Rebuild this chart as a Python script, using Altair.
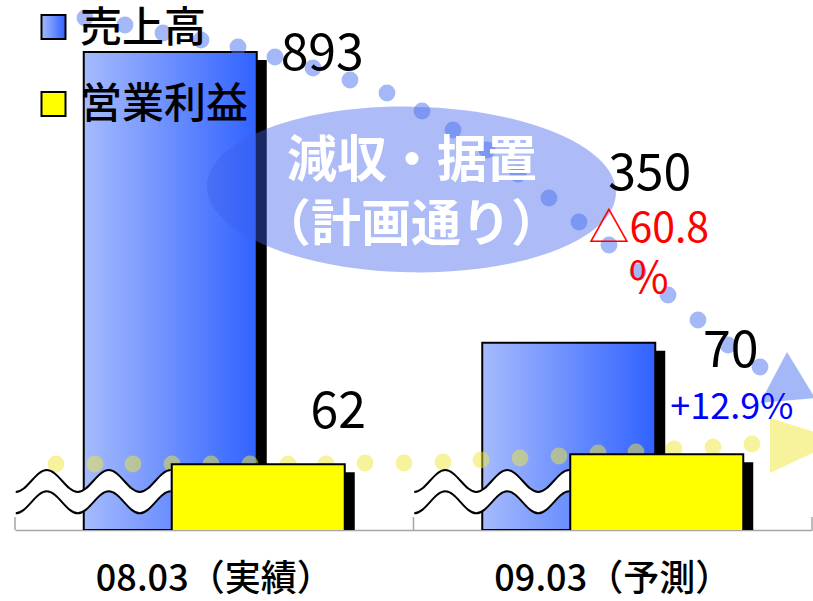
import altair as alt
import pandas as pd

# ---------------- data ----------------
periods = ["08.03（実績）", "09.03（予測）"]
series = ["売上高", "営業利益"]
sales = [893, 350]
profit = [62, 70]
sales_change = ["", "△60.8%"]
profit_change = ["", "+12.9%"]
callout = ["減収・据置", "（計画通り）"]

# decorative dotted arrows (pixel centres of the dots)
blue_dot_x = [85, 125, 163, 201, 238, 275, 313, 350, 387, 422, 453, 487, 518, 549, 579, 609, 638, 668, 698, 728, 760]
blue_dot_y = [18, 25, 33, 40, 47, 57, 68, 80, 93, 111, 130, 150, 174, 198, 222, 245, 272, 295, 320, 345, 367]
yel_dot_x = [56, 95, 133, 172, 211, 250, 288, 326, 365, 404, 443, 481, 520, 559, 598, 636, 674, 713, 752]
yel_dot_y = [464, 464, 464, 464, 464, 464, 464, 464, 463, 463, 462, 460, 458, 456, 453, 452, 449, 447, 444]

# ---------------- styling ----------------
JP = "Noto Sans CJK JP"
NUM = "Noto Sans CJK JP"
BLUE_GRAD = alt.Gradient(
    gradient="linear",
    stops=[alt.GradientStop(color="#a6bbfd", offset=0), alt.GradientStop(color="#3062ff", offset=1)],
    x1=0, x2=1, y1=0, y2=0,
)
YELLOW = "#ffff00"

df = pd.DataFrame({
    "period": periods * 2,
    "series": [series[0]] * 2 + [series[1]] * 2,
    "value": sales + profit,
})
chg = pd.DataFrame({"period": periods, "sales_change": sales_change, "profit_change": profit_change})

xband = alt.Scale(domain=periods, range=[15, 812], paddingInner=0, paddingOuter=0)
ys = alt.Scale(domain=[0, 990], range=[530, 0], zero=False, nice=False)
yp = alt.Scale(domain=[9.4, 433.4], range=[530, 0], zero=False, nice=False)
pxs = alt.Scale(domain=[0, 813], range=[0, 813], zero=False, nice=False)
pys = alt.Scale(domain=[0, 530], range=[0, 530], zero=False, nice=False)

X = alt.X("period:N", scale=xband, axis=None)
Ys = alt.Y("value:Q", scale=ys, axis=None)
Yp = alt.Y("value:Q", scale=yp, axis=None)
PX = lambda f: alt.X(f"{f}:Q", scale=pxs, axis=None)
PY = lambda f: alt.Y(f"{f}:Q", scale=pys, axis=None)

base = alt.Chart(df)
sales_d = base.transform_filter(alt.datum.series == series[0])
profit_d = base.transform_filter(alt.datum.series == series[1])

xaxis = alt.Axis(title=None, labelFont=JP, labelFontSize=36, labelFontWeight=500, labelColor="black",
                 labelAngle=0, labelPadding=32, labelLimit=600, ticks=False, grid=False,
                 domainColor="#a6a6a6", domainWidth=1.5)

layers = []
# sales bars (shadow + bar)
layers.append(sales_d.mark_bar(size=173, xOffset=-34, yOffset=8, color="black", clip=True)
              .encode(x=X, y=Ys))
layers.append(sales_d.mark_bar(size=173, xOffset=-44, fill=BLUE_GRAD, stroke="black", strokeWidth=2, clip=True)
              .encode(x=alt.X("period:N", scale=xband, axis=xaxis), y=Ys))

# axis ticks pointing up at band boundaries
layers.append(alt.Chart(chg).mark_rule(color="#a6a6a6", strokeWidth=1.5)
              .encode(x=alt.X("period:N", scale=xband, axis=None, bandPosition=0),
                      y=alt.value(517), y2=alt.value(530)))
layers.append(alt.Chart(chg).transform_filter(alt.datum.period == periods[-1])
              .mark_rule(color="#a6a6a6", strokeWidth=1.5)
              .encode(x=alt.X("period:N", scale=xband, axis=None, bandPosition=1),
                      y=alt.value(517), y2=alt.value(530)))

# yellow dotted arrow
ydots = pd.DataFrame({"x": yel_dot_x, "y": yel_dot_y})
layers.append(alt.Chart(ydots).mark_circle(size=283, color="#efe73a", opacity=0.5)
              .encode(x=PX("x"), y=PY("y")))
ytri = pd.DataFrame({"x": [800], "y": [445]})
layers.append(alt.Chart(ytri).mark_point(shape="M -0.857 -0.771 L 1.143 -0.143 L -0.857 0.8 Z", size=4900,
                                         filled=True, fill="#efe73a", opacity=0.5, strokeWidth=0)
              .encode(x=PX("x"), y=PY("y")))

# broken-axis wave symbols
top = ("M -1 0 C -0.856 0 -0.744 -0.284 -0.6 -0.284 C -0.456 -0.284 -0.344 0 -0.2 0 "
       "C -0.056 0 0.056 -0.284 0.2 -0.284 C 0.344 -0.284 0.456 0 0.6 0 C 0.744 0 0.856 -0.284 1 -0.284")
bottom = ("M -1 0.275 C -0.856 0.275 -0.744 -0.009 -0.6 -0.009 C -0.456 -0.009 -0.344 0.275 -0.2 0.275 "
          "C -0.056 0.275 0.056 -0.009 0.2 -0.009 C 0.344 -0.009 0.456 0.275 0.6 0.275 C 0.744 0.275 0.856 -0.009 1 -0.009")
band_fill = (top + " L 1 -0.009 C 0.856 -0.009 0.744 0.275 0.6 0.275 C 0.456 0.275 0.344 -0.009 0.2 -0.009 "
             "C 0.056 -0.009 -0.056 0.275 -0.2 0.275 C -0.344 0.275 -0.456 -0.009 -0.6 -0.009 "
             "C -0.744 -0.009 -0.856 0.275 -1 0.275 Z")
wave = alt.Chart(chg)
layers.append(wave.mark_point(shape=band_fill, size=24025, filled=True, fill="white", opacity=1,
                              strokeWidth=0, xOffset=-121)
              .encode(x=X, y=alt.value(492)))
layers.append(wave.mark_point(shape=top + " " + bottom, size=24025, filled=False, stroke="black",
                              strokeWidth=2, opacity=1, xOffset=-121)
              .encode(x=X, y=alt.value(492)))

# profit bars (shadow + bar)
layers.append(profit_d.mark_bar(size=173, xOffset=54, yOffset=8, color="black", clip=True)
              .encode(x=X, y=Yp))
layers.append(profit_d.mark_bar(size=173, xOffset=44, fill=YELLOW, stroke="black", strokeWidth=2, clip=True)
              .encode(x=X, y=Yp))

# callout ellipse
ell = ("M -1 0 C -1 -0.2237 -0.5523 -0.405 0 -0.405 C 0.5523 -0.405 1 -0.2237 1 0 "
       "C 1 0.2237 0.5523 0.405 0 0.405 C -0.5523 0.405 -1 0.2237 -1 0 Z")
layers.append(alt.Chart(pd.DataFrame({"x": [411.5], "y": [189.5]}))
              .mark_point(shape=ell, size=167281, filled=True, fill="#3c5feb", opacity=0.42,
                          strokeWidth=0, angle=1)
              .encode(x=PX("x"), y=PY("y")))

# blue dotted arrow
bdots = pd.DataFrame({"x": blue_dot_x, "y": blue_dot_y})
layers.append(alt.Chart(bdots).mark_circle(size=283, color="#4a72f0", opacity=0.5)
              .encode(x=PX("x"), y=PY("y")))
layers.append(alt.Chart(pd.DataFrame({"x": [787], "y": [380]}))
              .mark_point(shape="M 0 -1.04 L 1.04 0.67 L -1 0.85 Z", size=2916, filled=True,
                          fill="#4a72f0", opacity=0.5, strokeWidth=0)
              .encode(x=PX("x"), y=PY("y")))

# callout text
ctext = pd.DataFrame({"t": callout, "x": [412, 411], "y": [162, 226]})
layers.append(alt.Chart(ctext).mark_text(font=JP, fontSize=50, fontWeight="bold", color="white",
                                         baseline="middle", align="center")
              .encode(x=PX("x"), y=PY("y"), text="t:N"))

# value labels
def vlabel(d, Y, period, dx, dy):
    return (d.transform_filter(alt.datum.period == period)
            .mark_text(font=NUM, fontSize=50, color="black", baseline="middle", align="center", dx=dx, dy=dy)
            .encode(x=X, y=Y, text="value:Q"))

layers.append(vlabel(sales_d, Ys, periods[0], 108, 3))
layers.append(vlabel(sales_d, Ys, periods[1], 37, -168))
layers.append(vlabel(profit_d, Yp, periods[0], 124, -51))
layers.append(vlabel(profit_d, Yp, periods[1], 118, -102))

# change labels
sc = (alt.Chart(pd.DataFrame({"period": periods, "chg": sales_change, "v": sales}))
      .transform_filter(alt.datum.chg != "")
      .transform_calculate(l1="replace(datum.chg, '%', '')", l2="'%'"))
layers.append(sc.mark_text(font=NUM, fontSize=41, color="#ff0000", baseline="middle", align="center", dx=36, dy=-113)
              .encode(x=X, y=alt.Y("v:Q", scale=ys, axis=None), text="l1:N"))
layers.append(sc.mark_text(font=NUM, fontSize=43, color="#ff0000", baseline="middle", align="center", dx=36, dy=-63)
              .encode(x=X, y=alt.Y("v:Q", scale=ys, axis=None), text="l2:N"))
pc = (alt.Chart(pd.DataFrame({"period": periods, "chg": profit_change, "v": profit}))
      .transform_filter(alt.datum.chg != ""))
layers.append(pc.mark_text(font=NUM, fontSize=36, color="#0000ff", baseline="middle", align="center", dx=119, dy=-46)
              .encode(x=X, y=alt.Y("v:Q", scale=yp, axis=None), text="chg:N"))

# legend
leg = pd.DataFrame({"s": series, "x": [53.5, 53.5], "y": [27, 104], "tx": [80, 80], "ty": [29, 105]})
layers.append(alt.Chart(leg).transform_filter(alt.datum.s == series[0])
              .mark_square(size=576, fill=BLUE_GRAD, stroke="black", strokeWidth=2, opacity=1)
              .encode(x=PX("x"), y=PY("y")))
layers.append(alt.Chart(leg).transform_filter(alt.datum.s == series[1])
              .mark_square(size=576, fill=YELLOW, stroke="black", strokeWidth=2, opacity=1)
              .encode(x=PX("x"), y=PY("y")))
layers.append(alt.Chart(leg).mark_text(font=JP, fontSize=42, fontWeight=500, color="black", align="left",
                                       baseline="middle")
              .encode(x=PX("tx"), y=PY("ty"), text="s:N"))

chart = (alt.layer(*layers)
         .resolve_scale(x="independent", y="independent")
         .properties(width=813, height=530, autosize="none",
                     padding={"left": 0, "right": 0, "top": 0, "bottom": 71}, background="white")
         .configure_view(stroke=None))

chart.save("out.html", embed_options={"renderer": "svg", "actions": False})
